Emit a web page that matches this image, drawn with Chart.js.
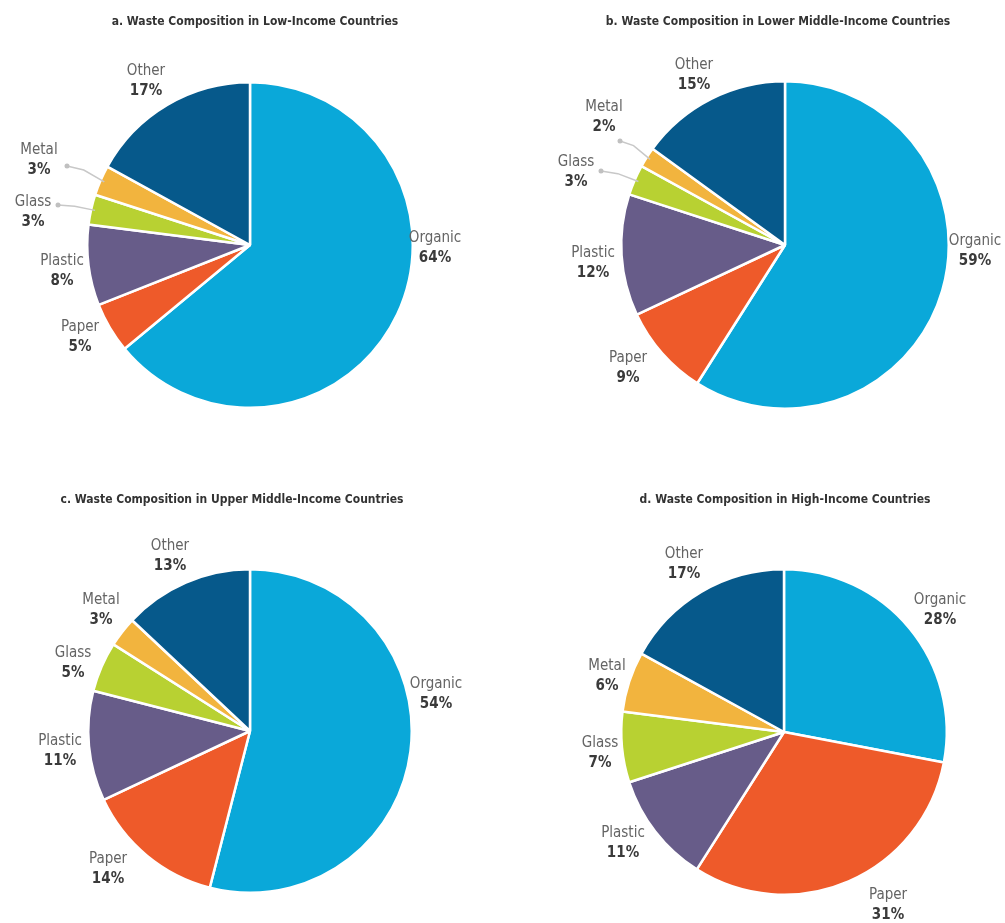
<!DOCTYPE html>
<html>
<head>
<meta charset="utf-8">
<title>Waste Composition by Income Level</title>
<script src="https://cdn.jsdelivr.net/npm/chart.js@4.4.1/dist/chart.umd.min.js"></script>
<style>
  html, body { margin: 0; padding: 0; background: #fff; }
  #wrap { position: relative; width: 1005px; height: 923px; }
  .panel { position: absolute; }
</style>
</head>
<body>
<div id="wrap">
  <div class="panel" style="left:0;top:0;width:502px;height:461px"><canvas id="chartA"></canvas></div>
  <div class="panel" style="left:502px;top:0;width:503px;height:461px"><canvas id="chartB"></canvas></div>
  <div class="panel" style="left:0;top:461px;width:502px;height:462px"><canvas id="chartC"></canvas></div>
  <div class="panel" style="left:502px;top:461px;width:503px;height:462px"><canvas id="chartD"></canvas></div>
</div>
<script>
// Waste categories, clockwise from 12 o'clock
const categories = ['Organic', 'Paper', 'Plastic', 'Glass', 'Metal', 'Other'];

// Share of each category (%) per income group
const lowIncome = [64, 5, 8, 3, 3, 17];
const lowerMiddleIncome = [59, 9, 12, 3, 2, 15];
const upperMiddleIncome = [54, 14, 11, 5, 3, 13];
const highIncome = [28, 31, 11, 7, 6, 17];

const titles = [
  'a. Waste Composition in Low-Income Countries',
  'b. Waste Composition in Lower Middle-Income Countries',
  'c. Waste Composition in Upper Middle-Income Countries',
  'd. Waste Composition in High-Income Countries'
];

const colors = ['#0aa8d9', '#ee5a2a', '#675c89', '#b8d132', '#f2b43e', '#06598b'];

const FONT = "'Liberation Sans Narrow', 'DejaVu Sans Condensed', 'Roboto', sans-serif";

// pie placement inside each canvas: centre x/y, radius, title x/y
const panels = [
  { id: 'chartA', w: 502, h: 461, cx: 250, cy: 245, r: 164, tx: 255, ty: 22 },
  { id: 'chartB', w: 503, h: 461, cx: 283, cy: 245, r: 165, tx: 276, ty: 22 },
  { id: 'chartC', w: 502, h: 462, cx: 250, cy: 270, r: 163, tx: 232, ty: 39 },
  { id: 'chartD', w: 503, h: 462, cx: 282, cy: 271, r: 164, tx: 283, ty: 39 }
];

// where each label block sits, relative to the pie centre
const labelOffsets = [
  [[185, 3], [-170, 92], [-188, 26], [-217, -33], [-211, -85], [-104, -164]],
  [[190, 6], [-157, 123], [-192, 18], [-209, -73], [-181, -128], [-91, -170]],
  [[186, -37], [-142, 138], [-190, 20], [-177, -68], [-149, -121], [-80, -175]],
  [[156, -122], [104, 173], [-161, 111], [-184, 21], [-177, -56], [-100, -168]]
];

// leader dots for the thin slices (relative to centre), null = no leader
const leaderDots = [
  [null, null, null, [-192, -40], [-183, -79], null],
  [null, null, null, [-184, -74], [-165, -104], null],
  [null, null, null, null, null, null],
  [null, null, null, null, null, null]
];

const datasets = [lowIncome, lowerMiddleIncome, upperMiddleIncome, highIncome];

// draws the title, the slice labels and the leader lines
const pieLabels = {
  id: 'pieLabels',
  afterDatasetsDraw(chart, args, opts) {
    const ctx = chart.ctx;
    const meta = chart.getDatasetMeta(0);
    const values = chart.data.datasets[0].data;
    const p = opts.panel;

    ctx.save();
    ctx.fillStyle = '#333';
    ctx.font = 'bold 12px ' + FONT;
    ctx.textAlign = 'center';
    ctx.textBaseline = 'middle';
    ctx.fillText(opts.title, p.tx, p.ty);

    meta.data.forEach((arc, i) => {
      const { x, y, startAngle, endAngle, outerRadius } = arc.getProps(['x', 'y', 'startAngle', 'endAngle', 'outerRadius'], true);
      const off = opts.offsets[i];
      const lx = x + off[0];
      const ly = y + off[1];

      const dot = opts.dots[i];
      if (dot) {
        const mid = (startAngle + endAngle) / 2;
        const ex = x + Math.cos(mid) * (outerRadius - 4);
        const ey = y + Math.sin(mid) * (outerRadius - 4);
        const dx = x + dot[0];
        const dy = y + dot[1];
        ctx.strokeStyle = '#c8c8c8';
        ctx.lineWidth = 1.5;
        ctx.beginPath();
        ctx.moveTo(dx, dy);
        ctx.lineTo(dx + (ex - dx) * 0.45, dy + (ey - dy) * 0.25);
        ctx.lineTo(ex, ey);
        ctx.stroke();
        ctx.fillStyle = '#c0c0c0';
        ctx.beginPath();
        ctx.arc(dx, dy, 2.5, 0, Math.PI * 2);
        ctx.fill();
      }

      ctx.fillStyle = '#646464';
      ctx.font = '15px ' + FONT;
      ctx.fillText(chart.data.labels[i], lx, ly - 10);
      ctx.fillStyle = '#3a3a3a';
      ctx.font = 'bold 15px ' + FONT;
      ctx.fillText(values[i] + '%', lx, ly + 10);
    });
    ctx.restore();
  }
};

panels.forEach((p, k) => {
  const canvas = document.getElementById(p.id);
  new Chart(canvas.getContext('2d'), {
    type: 'pie',
    data: {
      labels: categories,
      datasets: [{
        data: datasets[k],
        backgroundColor: colors,
        borderColor: '#ffffff',
        borderWidth: 2.5
      }]
    },
    options: {
      responsive: true,
      maintainAspectRatio: false,
      animation: false,
      layout: {
        padding: {
          left: p.cx - p.r,
          right: p.w - p.cx - p.r,
          top: p.cy - p.r,
          bottom: p.h - p.cy - p.r
        }
      },
      plugins: {
        legend: { display: false },
        tooltip: { enabled: false },
        pieLabels: {
          panel: p,
          title: titles[k],
          offsets: labelOffsets[k],
          dots: leaderDots[k]
        }
      }
    },
    plugins: [pieLabels]
  });
});
</script>
</body>
</html>
